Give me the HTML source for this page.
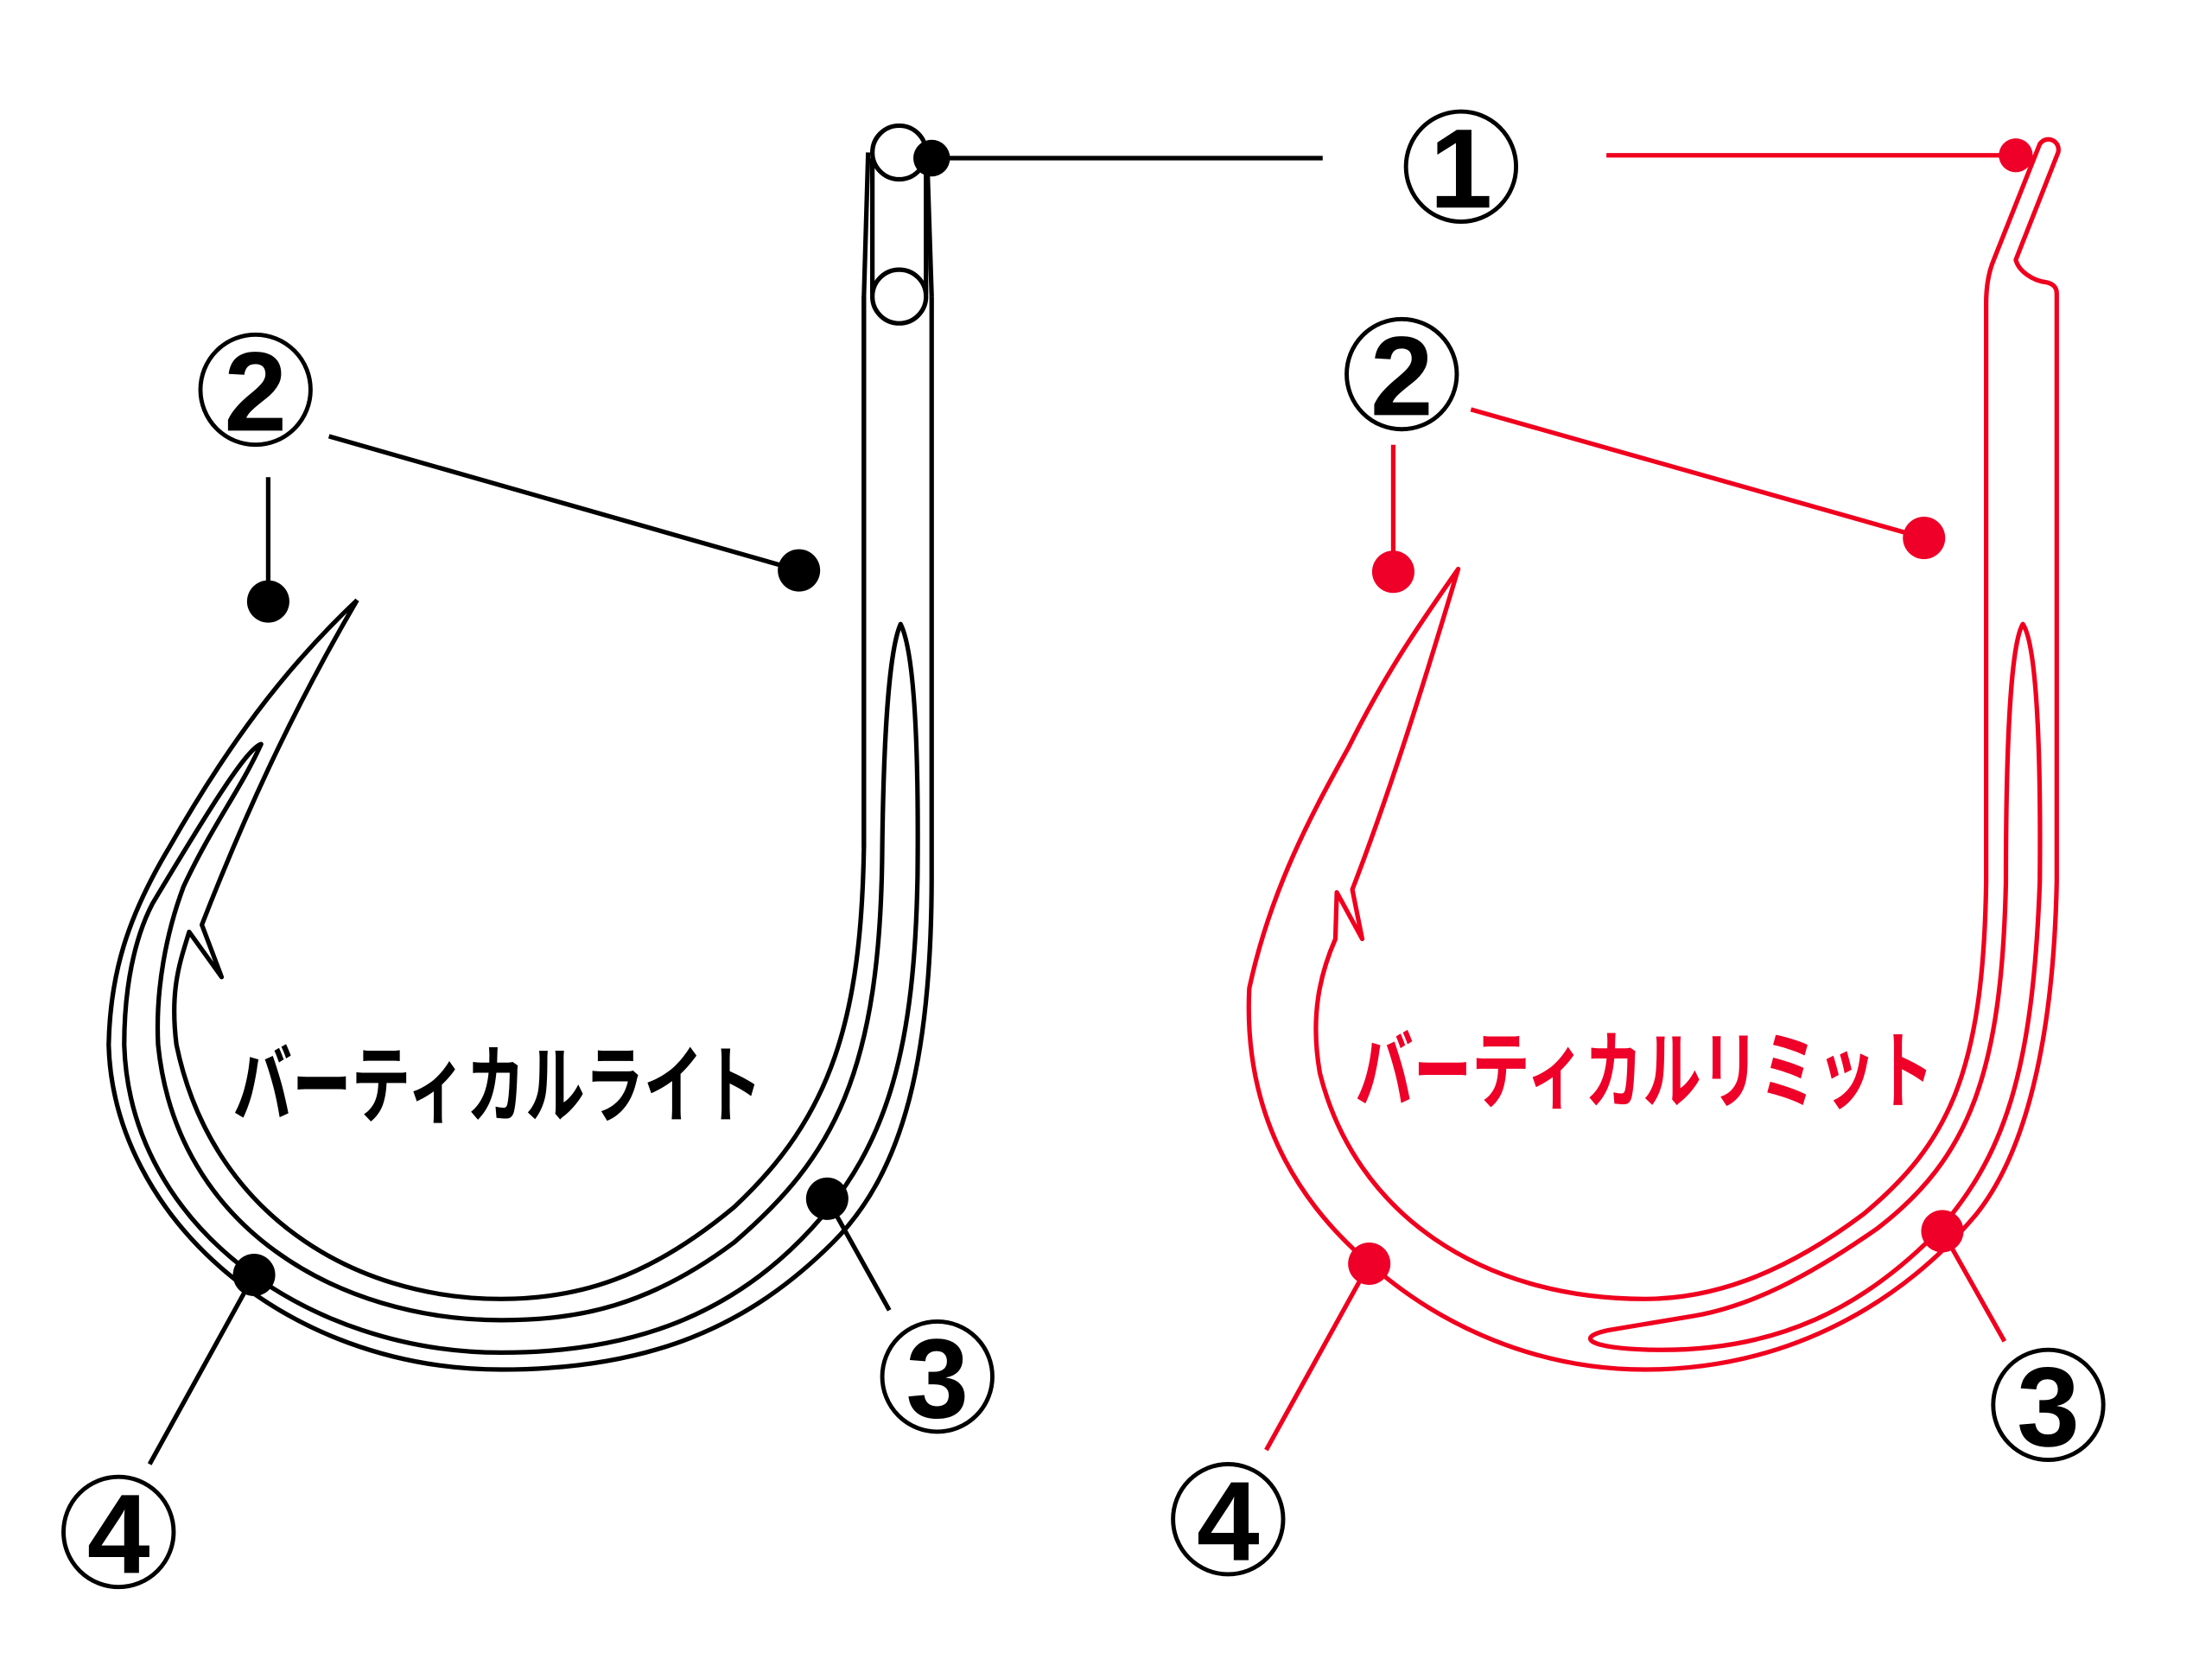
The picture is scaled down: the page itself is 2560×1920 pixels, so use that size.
<!DOCTYPE html>
<html><head><meta charset="utf-8"><style>
html,body{margin:0;padding:0;background:#fff;}
svg{display:block;}
</style></head><body>
<svg width="2560" height="1920" viewBox="0 0 1567 1175" preserveAspectRatio="none" xmlns="http://www.w3.org/2000/svg">
<rect width="1567" height="1175" fill="#fff"/>
<g fill="none" stroke="#000" stroke-width="3.2" stroke-linejoin="round">
  <path d="M615,108 L612,210 L612,600"/>
  <path d="M657,118 L660,210"/>
  <line x1="618" y1="112" x2="618" y2="208"/>
  <line x1="656" y1="112" x2="656" y2="208"/>
  <circle cx="637" cy="108" r="19" fill="#fff"/>
  <circle cx="637" cy="210" r="19" fill="#fff"/>
  <path d="M612,210 L612,600 C610,720 590,790 520,855 C460,905 410,920 355,920 C250,920 150,860 125,740 C120,700 128,680 134,660 L157,692 L143,655 C180,560 215,490 253,425"/>
  <path d="M253,425 C200,475 160,530 120,600 C90,650 78,690 77,740 C80,860 200,970 355,970 C460,970 530,940 590,880 C640,830 660,750 660,620 L660,210"/>
  <path d="M638,442 C630,460 626,520 625,600 C624,760 590,820 520,880 C460,925 410,935 355,935 C240,935 125,870 112,740 C110,700 118,660 130,628 C150,585 170,560 185,527 C175,530 150,570 108,640 C95,665 88,700 88,740 C92,870 220,958 355,958 C450,958 520,930 575,870 C630,810 648,740 650,620 C651,520 647,460 638,442 Z"/>
  <line x1="660" y1="112" x2="937" y2="112"/>
  <line x1="190" y1="338" x2="190" y2="426"/>
  <line x1="233" y1="309" x2="566" y2="404"/>
  <line x1="586" y1="849" x2="630" y2="928"/>
  <line x1="180" y1="903" x2="106" y2="1037"/>
</g>
<g fill="#000">
  <circle cx="660" cy="112" r="13"/>
  <circle cx="190" cy="426" r="15"/>
  <circle cx="566" cy="404" r="15"/>
  <circle cx="586" cy="849" r="15"/>
  <circle cx="180" cy="903" r="15"/>
</g>
<g fill="none" stroke="#f0001e" stroke-width="3.2" stroke-linejoin="round">
  <path d="M1457,625 L1457,208 C1457,203 1454,201 1450,200 C1440,199 1430,192 1428,184 L1458,108 C1460,100 1450,95 1445,102 L1412,185 C1408,195 1407,205 1407,215 L1407,625 C1405,760 1380,810 1320,860 C1260,905 1210,920 1165,920 C1050,920 960,860 935,760 C928,720 935,690 946,665 L947,632 L965,665 L958,630 C985,560 1010,480 1033,403 C1000,450 980,480 955,530 C930,575 900,630 885,700 C880,800 930,860 968,893 C1020,940 1090,970 1165,970 C1270,970 1350,920 1400,860 C1440,810 1455,720 1457,625 Z"/>
  <path d="M1433,442 C1425,455 1421,520 1421,625 C1418,760 1395,820 1330,870 C1280,905 1240,925 1200,932 L1140,942 C1115,947 1125,955 1170,956 C1260,958 1320,925 1370,875 C1420,820 1440,760 1445,625 C1446,520 1442,455 1433,442 Z"/>
  <line x1="1138" y1="110" x2="1428" y2="110"/>
  <line x1="987" y1="315" x2="987" y2="405"/>
  <line x1="1042" y1="290" x2="1363" y2="381"/>
  <line x1="1376" y1="872" x2="1420" y2="950"/>
  <line x1="970" y1="895" x2="897" y2="1027"/>
</g>
<g fill="#ee0028">
  <circle cx="1428" cy="110" r="12"/>
  <circle cx="987" cy="405" r="15"/>
  <circle cx="1363" cy="381" r="15"/>
  <circle cx="1376" cy="872" r="15"/>
  <circle cx="970" cy="895" r="15"/>
</g>
<g fill="#fff" stroke="#000" stroke-width="3">
  <circle cx="1035" cy="118" r="39"/>
  <circle cx="181" cy="276" r="39"/>
  <circle cx="664" cy="975" r="39"/>
  <circle cx="84" cy="1085" r="39"/>
  <circle cx="993" cy="265" r="39"/>
  <circle cx="1451" cy="995" r="39"/>
  <circle cx="870" cy="1076" r="39"/>
</g>
<g font-family="Liberation Sans, sans-serif" font-weight="bold" font-size="80" text-anchor="middle" fill="#000">
  <text x="1035" y="147">1</text>
  <text x="181" y="305">2</text>
  <text x="664" y="1004">3</text>
  <text x="84" y="1114">4</text>
  <text x="993" y="294">2</text>
  <text x="1451" y="1024">3</text>
  <text x="870" y="1105">4</text>
</g>
<g font-family="Liberation Sans, 'Noto Sans CJK JP', sans-serif" font-weight="bold" font-size="60">
  <text x="165" y="790" textLength="375" lengthAdjust="spacingAndGlyphs" fill="#000">バーティカルライト</text>
  <text x="960" y="780" textLength="410" lengthAdjust="spacingAndGlyphs" fill="#ee0028">バーティカルリミット</text>
</g>
</svg>
</body></html>
